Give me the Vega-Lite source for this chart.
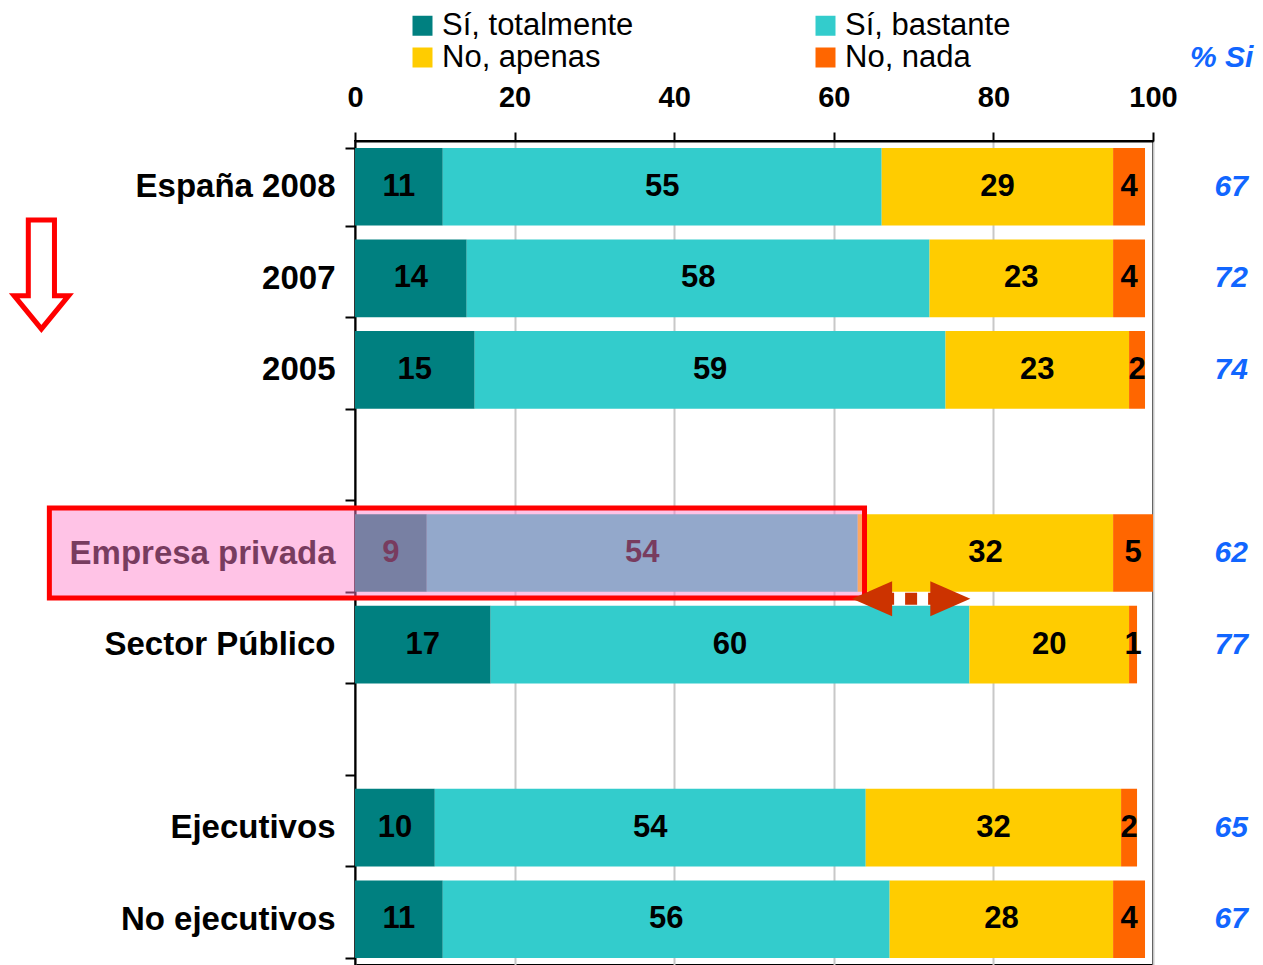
{
  "$schema": "https://vega.github.io/schema/vega-lite/v6.json",
  "width": 798,
  "height": 824,
  "autosize": {"type": "none"},
  "padding": {"left": 355, "top": 141, "right": 110, "bottom": 0},
  "background": "white",
  "config": {
    "font": "Liberation Sans",
    "view": {"stroke": "black", "strokeWidth": 2},
    "legend": {
      "orient": "none",
      "legendX": 52,
      "legendY": -131,
      "columns": 2,
      "title": null,
      "symbolType": "square",
      "symbolSize": 400,
      "symbolStrokeWidth": 0,
      "labelFont": "Liberation Sans",
      "labelFontSize": 31,
      "labelColor": "black",
      "labelOffset": 4,
      "columnPadding": 176,
      "rowPadding": 0,
      "labelLimit": 400
    }
  },
  "datasets": {
    "bars": [
      {"cat": "España 2008", "resp": "Sí, totalmente", "order": 1, "value": 11},
      {"cat": "España 2008", "resp": "Sí, bastante", "order": 2, "value": 55},
      {"cat": "España 2008", "resp": "No, apenas", "order": 3, "value": 29},
      {"cat": "España 2008", "resp": "No, nada", "order": 4, "value": 4},
      {"cat": "2007", "resp": "Sí, totalmente", "order": 1, "value": 14},
      {"cat": "2007", "resp": "Sí, bastante", "order": 2, "value": 58},
      {"cat": "2007", "resp": "No, apenas", "order": 3, "value": 23},
      {"cat": "2007", "resp": "No, nada", "order": 4, "value": 4},
      {"cat": "2005", "resp": "Sí, totalmente", "order": 1, "value": 15},
      {"cat": "2005", "resp": "Sí, bastante", "order": 2, "value": 59},
      {"cat": "2005", "resp": "No, apenas", "order": 3, "value": 23},
      {"cat": "2005", "resp": "No, nada", "order": 4, "value": 2},
      {"cat": "Empresa privada", "resp": "Sí, totalmente", "order": 1, "value": 9},
      {"cat": "Empresa privada", "resp": "Sí, bastante", "order": 2, "value": 54},
      {"cat": "Empresa privada", "resp": "No, apenas", "order": 3, "value": 32},
      {"cat": "Empresa privada", "resp": "No, nada", "order": 4, "value": 5},
      {"cat": "Sector Público", "resp": "Sí, totalmente", "order": 1, "value": 17},
      {"cat": "Sector Público", "resp": "Sí, bastante", "order": 2, "value": 60},
      {"cat": "Sector Público", "resp": "No, apenas", "order": 3, "value": 20},
      {"cat": "Sector Público", "resp": "No, nada", "order": 4, "value": 1},
      {"cat": "Ejecutivos", "resp": "Sí, totalmente", "order": 1, "value": 10},
      {"cat": "Ejecutivos", "resp": "Sí, bastante", "order": 2, "value": 54},
      {"cat": "Ejecutivos", "resp": "No, apenas", "order": 3, "value": 32},
      {"cat": "Ejecutivos", "resp": "No, nada", "order": 4, "value": 2},
      {"cat": "No ejecutivos", "resp": "Sí, totalmente", "order": 1, "value": 11},
      {"cat": "No ejecutivos", "resp": "Sí, bastante", "order": 2, "value": 56},
      {"cat": "No ejecutivos", "resp": "No, apenas", "order": 3, "value": 28},
      {"cat": "No ejecutivos", "resp": "No, nada", "order": 4, "value": 4}
    ],
    "si": [
      {"cat": "España 2008", "si": 67},
      {"cat": "2007", "si": 72},
      {"cat": "2005", "si": 74},
      {"cat": "Empresa privada", "si": 62},
      {"cat": "Sector Público", "si": 77},
      {"cat": "Ejecutivos", "si": 65},
      {"cat": "No ejecutivos", "si": 67}
    ]
  },
  "encoding": {
    "y": {
      "field": "cat",
      "type": "nominal",
      "title": null,
      "scale": {
        "domain": ["España 2008", "2007", "2005", "_a", "Empresa privada", "Sector Público", "_b", "Ejecutivos", "No ejecutivos"],
        "paddingInner": 0.152,
        "paddingOuter": 0.076
      },
      "axis": {
        "orient": "left",
        "tickBand": "extent",
        "tickSize": 10,
        "tickColor": "black",
        "tickWidth": 2,
        "domainColor": "black",
        "domainWidth": 2,
        "grid": false,
        "labelFont": "Liberation Sans",
        "labelFontSize": 33,
        "labelFontWeight": "bold",
        "labelColor": "black",
        "labelPadding": 10,
        "labelLimit": 400,
        "labelExpr": "indexof(datum.label, '_') == 0 ? '' : datum.label"
      }
    }
  },
  "layer": [
    {
      "data": {"name": "bars"},
      "mark": {"type": "bar"},
      "encoding": {
        "x": {
          "field": "value",
          "type": "quantitative",
          "stack": "zero",
          "title": null,
          "scale": {"domain": [0, 100], "nice": false},
          "axis": {
            "orient": "top",
            "values": [0, 20, 40, 60, 80, 100],
            "labelFont": "Liberation Sans",
            "labelFontSize": 29,
            "labelFontWeight": "bold",
            "labelColor": "black",
            "labelFlush": false,
            "labelPadding": 20,
            "tickSize": 9,
            "tickColor": "black",
            "tickWidth": 2,
            "domainColor": "black",
            "domainWidth": 2,
            "grid": true,
            "gridColor": "#C8C8C8",
            "gridWidth": 2
          }
        },
        "color": {
          "field": "resp",
          "type": "nominal",
          "sort": null,
          "scale": {
            "domain": ["Sí, totalmente", "No, apenas", "Sí, bastante", "No, nada"],
            "range": ["#008080", "#FFCC00", "#33CCCC", "#FF6600"]
          }
        },
        "order": {"field": "order", "type": "quantitative"}
      }
    },
    {
      "data": {"name": "bars"},
      "mark": {"type": "text", "font": "Liberation Sans", "fontSize": 31, "fontWeight": "bold", "color": "black", "baseline": "middle", "align": "center"},
      "encoding": {
        "x": {"field": "value", "type": "quantitative", "stack": "zero", "bandPosition": 0.5},
        "detail": {"field": "resp", "type": "nominal"},
        "order": {"field": "order", "type": "quantitative"},
        "text": {"field": "value", "type": "quantitative"}
      }
    },
    {
      "data": {"name": "si"},
      "mark": {"type": "text", "font": "Liberation Sans", "fontSize": 30, "fontWeight": "bold", "fontStyle": "italic", "color": "#1166FF", "baseline": "middle", "align": "center"},
      "encoding": {
        "x": {"datum": 109.8, "type": "quantitative"},
        "text": {"field": "si", "type": "quantitative"}
      }
    },
    {
      "data": {"values": [{"label": "% Si"}]},
      "mark": {"type": "text", "font": "Liberation Sans", "fontSize": 30, "fontWeight": "bold", "fontStyle": "italic", "color": "#1166FF", "baseline": "middle", "align": "center"},
      "encoding": {
        "x": {"datum": 108.6, "type": "quantitative"},
        "y": {"datum": "España 2008", "type": "nominal", "bandPosition": -1.16},
        "text": {"field": "label", "type": "nominal"}
      }
    },
    {
      "data": {"values": [{}]},
      "mark": {"type": "rect", "fill": "#FF80CA", "fillOpacity": 0.47, "stroke": "#FF0000", "strokeWidth": 5, "height": {"band": 1.16}},
      "encoding": {
        "x": {"datum": -38.3, "type": "quantitative"},
        "x2": {"datum": 63.85},
        "y": {"datum": "Empresa privada", "type": "nominal"}
      }
    },
    {
      "data": {"values": [{}]},
      "mark": {"type": "rule", "color": "#CC3300", "strokeWidth": 12, "strokeDash": [22, 11, 12, 11]},
      "encoding": {
        "x": {"datum": 64.8, "type": "quantitative"},
        "x2": {"datum": 74.6},
        "y": {"datum": "Empresa privada", "type": "nominal", "bandPosition": 1.09}
      }
    },
    {
      "data": {"values": [{}]},
      "mark": {"type": "point", "filled": true, "opacity": 1, "color": "#CC3300", "size": 1600, "shape": "M -1 0 L 1 -0.875 L 1 0.875 Z"},
      "encoding": {
        "x": {"datum": 64.8, "type": "quantitative"},
        "y": {"datum": "Empresa privada", "type": "nominal", "bandPosition": 1.09}
      }
    },
    {
      "data": {"values": [{}]},
      "mark": {"type": "point", "filled": true, "opacity": 1, "color": "#CC3300", "size": 1600, "shape": "M 1 0 L -1 -0.875 L -1 0.875 Z"},
      "encoding": {
        "x": {"datum": 74.6, "type": "quantitative"},
        "y": {"datum": "Empresa privada", "type": "nominal", "bandPosition": 1.09}
      }
    },
    {
      "data": {"values": [{}]},
      "mark": {"type": "point", "filled": true, "opacity": 1, "fill": "white", "stroke": "#FF0000", "strokeWidth": 5, "size": 11881, "shape": "M -0.24 -1 L 0.24 -1 L 0.24 0.39 L 0.5 0.39 L 0 1 L -0.5 0.39 L -0.24 0.39 Z"},
      "encoding": {
        "x": {"datum": -39.3, "type": "quantitative"},
        "y": {"datum": "2007", "type": "nominal", "bandPosition": 0.45}
      }
    }
  ]
}
